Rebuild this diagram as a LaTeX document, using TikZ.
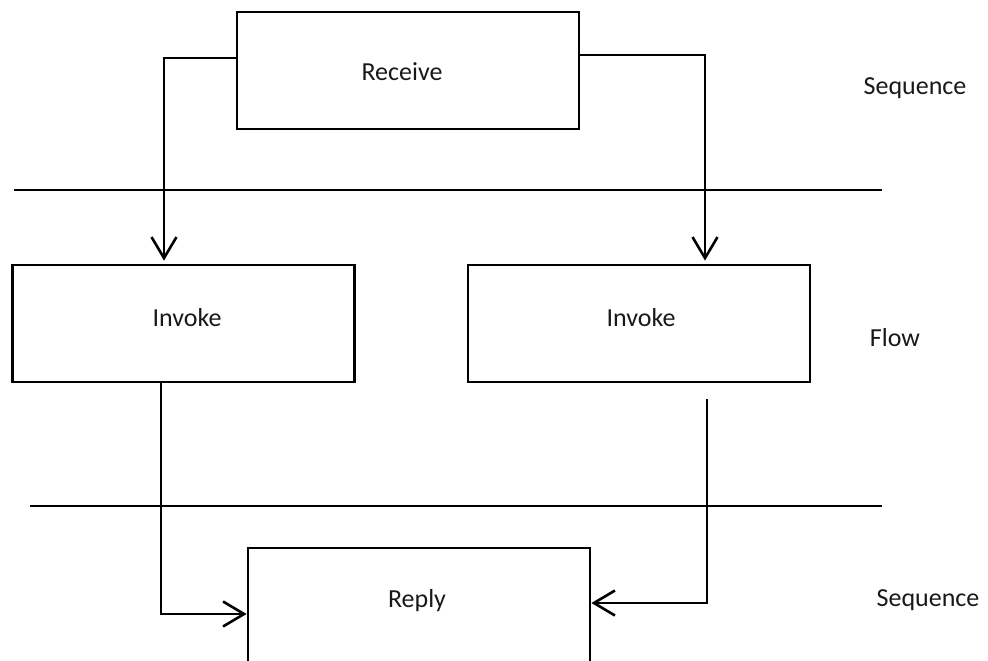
\documentclass[tikz,border=0pt]{standalone}
\usepackage{fontspec}
\setmainfont{Carlito}
\usetikzlibrary{arrows.meta}
\begin{document}
\begin{tikzpicture}[x=1pt,y=-1pt,
  font=\fontsize{26}{30}\selectfont,
  block/.style={draw=black, line width=2.8pt, minimum width=342pt, minimum height=117pt, inner sep=0pt, text=black!90},
  link/.style={draw=black, line width=2.4pt, -{Straight Barb[length=21pt,width=25pt,line width=2.6pt]}},
  divider/.style={draw=black, line width=2.6pt},
  tag/.style={text=black!90, inner sep=0pt}]
  \useasboundingbox (0,0) rectangle (988,661);
  \clip (0,0) rectangle (988,661);

  % activity boxes
  \node[block] (rcv) at (408,70.5) {};
  \node[block] (inv1) at (183.5,323.5) {};
  \node[block] (inv2) at (639,323.5) {};
  \node[block, minimum height=220pt] (rply) at (419,658) {};

  % box captions
  \node[tag] (rcvtxt) at (402,72) {Receive};
  \node[tag] (inv1txt) at (187,318) {Invoke};
  \node[tag] (inv2txt) at (641,318) {Invoke};
  \node[tag] (rplytxt) at (417,601) {Reply};

  % separators between the sequence and flow bands
  \coordinate (d1a) at (14,190);
  \coordinate (d1b) at (882,190);
  \coordinate (d2a) at (30,506);
  \coordinate (d2b) at (882,506);
  \draw[divider] (d1a) -- (d1b);
  \draw[divider] (d2a) -- (d2b);

  % band labels
  \node[tag] (seq1) at (915,88) {Sequence};
  \node[tag] (flow) at (895,338) {Flow};
  \node[tag] (seq2) at (928,600) {Sequence};

  % control links
  \draw[link] ([yshift=12.5pt]rcv.west) -| ([xshift=-19.5pt,yshift=3pt]inv1.north);
  \draw[link] ([yshift=15.5pt]rcv.east) -| ([xshift=66pt,yshift=3pt]inv2.north);
  \draw[link] ([xshift=-22.5pt]inv1.south) |- ([yshift=44pt]rply.west);
  \draw[link] ([xshift=68pt,yshift=-16pt]inv2.south) |- ([yshift=55pt]rply.east);
\end{tikzpicture}
\end{document}
